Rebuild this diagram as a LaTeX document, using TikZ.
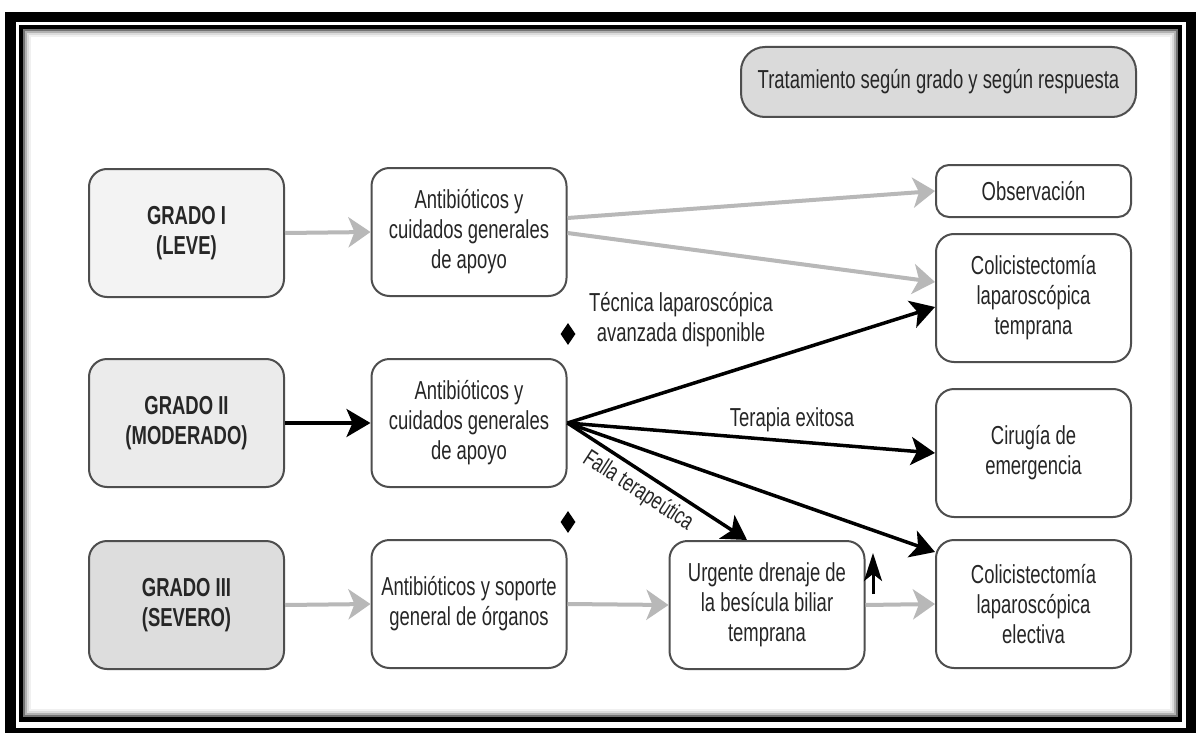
\documentclass[tikz,border=0pt]{standalone}
\usepackage{fontspec}
\setmainfont{Liberation Sans}[FakeStretch=0.71]
\usetikzlibrary{shapes.geometric,arrows.meta}
\definecolor{txt}{HTML}{262626}
\definecolor{bordc}{HTML}{4E4E4E}
\definecolor{arrgray}{HTML}{B8B8B8}
\definecolor{fillA}{HTML}{F3F3F3}
\definecolor{fillB}{HTML}{EBEBEB}
\definecolor{fillC}{HTML}{DDDDDD}
\definecolor{fillT}{HTML}{DADADA}
\begin{document}
\begin{tikzpicture}[x=1pt,y=-1pt,
  box/.style={draw=bordc, line width=2pt, rounded corners=18pt, fill=white,
    minimum width=195pt, minimum height=128pt, align=center, text=txt,
    font=\fontsize{26}{30}\selectfont, inner sep=0pt},
  gbox/.style={box, font=\fontsize{26}{30}\selectfont\bfseries},
  smallbox/.style={box, minimum height=52pt, rounded corners=13pt},
  titlebox/.style={box, fill=fillT, minimum width=395pt, minimum height=70pt,
    rounded corners=24pt, font=\fontsize{26}{28}\selectfont},
  garrow/.style={draw=arrgray, line width=4pt,
    -{Stealth[length=22pt,width=30pt,inset=6pt]}},
  barrow/.style={draw=black, line width=3.5pt,
    -{Stealth[length=24pt,width=28pt,inset=6pt]}},
  lbl/.style={text=txt, align=center, font=\fontsize{26}{30}\selectfont, inner sep=0pt},
  dia/.style={diamond, fill=black, inner sep=0pt, minimum width=15pt, minimum height=22pt}
]
\useasboundingbox (0,0) rectangle (1196,733);
\fill[white] (0,0) rectangle (1196,733);
% frame
\fill[black] (5,12) rectangle (1196,733);
\fill[white] (16,22) rectangle (1186,728);
\fill[black] (19,25) rectangle (1182,722);
\fill[white] (23,29) rectangle (1178,717);
\draw[black!55, line width=2pt] (24,30) rectangle (1177,716);
\draw[black!30, line width=2pt] (26,32) rectangle (1175,714);
\draw[black!14, line width=2pt] (28,34) rectangle (1173,712);
\draw[black!6, line width=2pt] (30,36) rectangle (1171,710);

% nodes
\node[titlebox] (title) at (938.5,82) {Tratamiento según grado y según respuesta};

\node[gbox, fill=fillA] (g1) at (186.5,233) {GRADO I\\(LEVE)};
\node[gbox, fill=fillB] (g2) at (186.5,423) {GRADO II\\(MODERADO)};
\node[gbox, fill=fillC] (g3) at (186.5,605) {GRADO III\\(SEVERO)};

\node[box] (a1) at (469,232) {Antibióticos y\\cuidados generales\\de apoyo};
\node[box] (a2) at (469,423) {Antibióticos y\\cuidados generales\\de apoyo};
\node[box] (a3) at (469,604) {Antibióticos y soporte\\general de órganos};

\node[box] (urg) at (767,605) {Urgente drenaje de\\la besícula biliar\\temprana};

\node[smallbox] (obs) at (1033.5,191) {Observación};
\node[box] (ct) at (1033.5,298) {Colicistectomía\\laparoscópica\\temprana};
\node[box] (cir) at (1033.5,453) {Cirugía de\\emergencia};
\node[box] (ce) at (1033.5,604) {Colicistectomía\\laparoscópica\\electiva};

% labels
\node[lbl] (ltec) at (681,320) {Técnica laparoscópica\\avanzada disponible};
\node[lbl] (lter) at (792,420) {Terapia exitosa};
\node[lbl, rotate=-33, font=\fontsize{24}{26}\selectfont] (lfal) at (638,491) {Falla terapeútica};
\node[dia] (d1) at (568,334) {};
\node[dia] (d2) at (568,522) {};

% gray arrows
\draw[garrow] (g1.east) -- (a1.west);
\draw[garrow] (g3.east) -- (a3.west);
\draw[garrow] (a3.east) -- (urg.west);
\draw[garrow] (urg.east) -- (ce.west);
\draw[garrow] ([yshift=14pt]a1.east) -- (obs.west);
\draw[garrow] ([yshift=-1pt]a1.east) -- ([yshift=16pt]ct.west);

% black arrows
\draw[barrow] (g2.east) -- (a2.west);
\draw[barrow] (a2.east) -- ([yshift=-9pt]ct.west);
\draw[barrow] (a2.east) -- (cir.west);
\draw[barrow] (a2.east) -- ([xshift=-20pt]urg.north);
\draw[barrow] (a2.east) -- ([yshift=52pt]ce.west);
\coordinate (upS) at (873,594);
\coordinate (upE) at (873,553);
\draw[draw=black, line width=3pt, -{Stealth[length=28pt,width=18pt,inset=7pt]}] (upS) -- (upE);
\end{tikzpicture}
\end{document}
